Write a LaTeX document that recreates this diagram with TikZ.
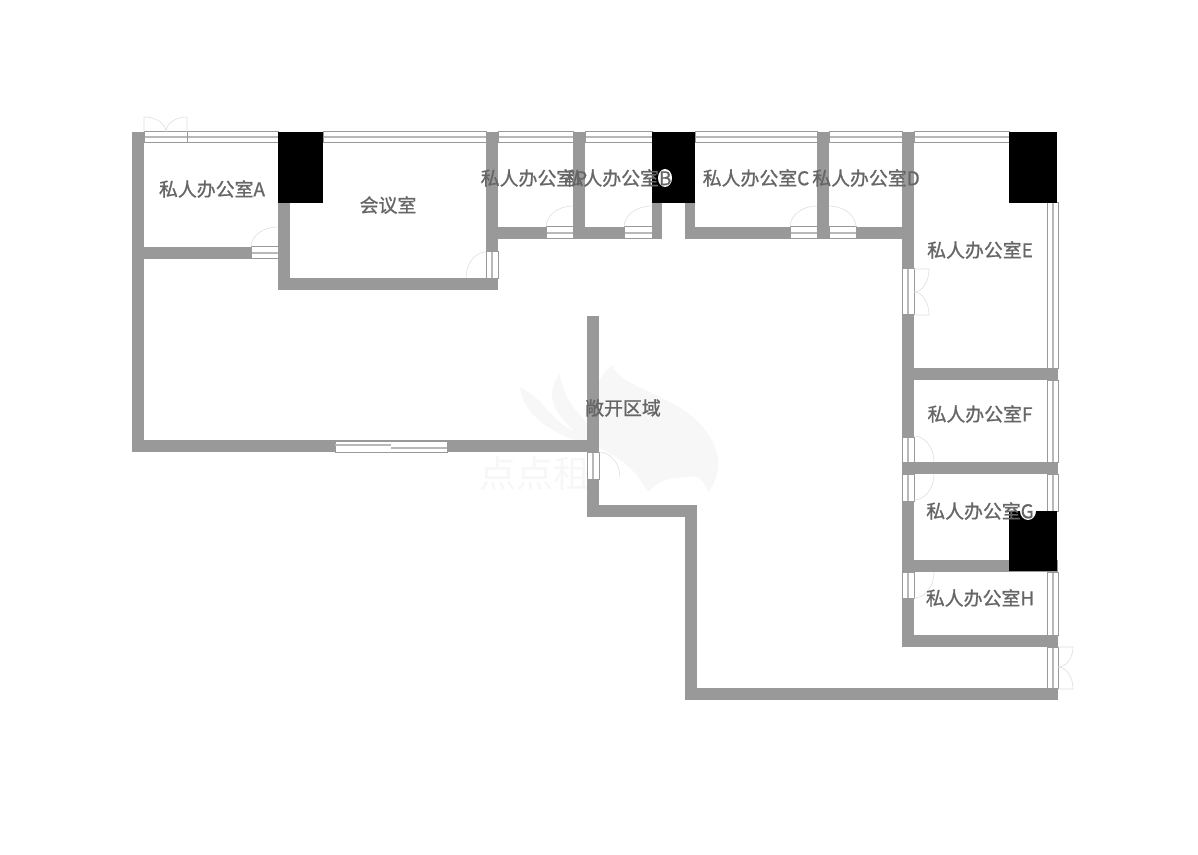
\documentclass[tikz,border=0pt]{standalone}
\usepackage{fontspec}
\setmainfont{Noto Sans CJK SC}[FakeBold=1]
\newfontfamily\markfont{Noto Sans CJK SC}
\usepackage{tikz}
\definecolor{wallgray}{HTML}{999999}
\definecolor{labelgray}{HTML}{666666}
\definecolor{markgray}{HTML}{F7F7F7}
\tikzset{
  wall/.style={fill=wallgray},
  pillar/.style={fill=black},
  winh/.style={draw=wallgray,fill=white,line width=0.5pt,path picture={\draw[winmid] (path picture bounding box.west) -- (path picture bounding box.east);}},
  winv/.style={draw=wallgray,fill=white,line width=0.5pt,path picture={\draw[winmid] (path picture bounding box.north) -- (path picture bounding box.south);}},
  winmid/.style={draw=wallgray!70,line width=1pt},
  leaf/.style={draw=black!13,line width=0.3pt},
  room/.style={text=labelgray,font=\fontsize{9.45}{11}\selectfont,inner sep=0pt},
  brandmark/.style={text=markgray,font=\markfont\fontsize{18.5}{20}\selectfont,inner sep=0pt}
}
\begin{document}
\begin{tikzpicture}[x=0.5pt,y=-0.5pt]
\useasboundingbox (0,0) rectangle (1198,855);
\fill[markgray] (520,387) .. controls (545,400) and (550,420) .. (575,432) .. controls (552,410) and (545,395) .. (560,373) .. controls (562,395) and (575,412) .. (590,425) .. controls (590,400) and (595,380) .. (612,365) .. controls (625,395) and (700,395) .. (717,453) .. controls (720,470) and (715,485) .. (708,492) .. controls (700,470) and (690,478) .. (677,478) .. controls (665,478) and (655,485) .. (648,492) .. controls (635,470) and (625,460) .. (597,447) .. controls (570,440) and (525,425) .. (520,387) -- cycle;
\node[brandmark] (markname) at (535,473) {点点租};

\fill[wall] (132,132) rectangle (144,452);
\fill[wall] (132,440) rectangle (599,452);
\fill[wall] (587,316) rectangle (599,517);
\fill[wall] (587,505) rectangle (697,517);
\fill[wall] (685,505) rectangle (697,700);
\fill[wall] (685,688) rectangle (1058,700);
\fill[wall] (144,247) rectangle (278,259);
\fill[wall] (278,203) rectangle (290,290);
\fill[wall] (278,278) rectangle (498,290);
\fill[wall] (486,132) rectangle (498,279);
\fill[wall] (498,227) rectangle (662,239);
\fill[wall] (573,132) rectangle (585,239);
\fill[wall] (652,203) rectangle (662,239);
\fill[wall] (685,203) rectangle (695,239);
\fill[wall] (685,227) rectangle (914,239);
\fill[wall] (817,132) rectangle (829,239);
\fill[wall] (902,132) rectangle (914,647);
\fill[wall] (902,368) rectangle (1058,380);
\fill[wall] (902,462) rectangle (1058,474);
\fill[wall] (902,560) rectangle (1058,572);
\fill[wall] (902,635) rectangle (1058,647);

\draw[winh] (144,132) rectangle (187,143);
\draw[winh] (187,132) rectangle (278,143);
\draw[winh] (323,132) rectangle (486,143);
\draw[winh] (498,132) rectangle (573,143);
\draw[winh] (585,132) rectangle (652,143);
\draw[winh] (695,132) rectangle (817,143);
\draw[winh] (829,132) rectangle (902,143);
\draw[winh] (914,132) rectangle (1009,143);
\draw[winh] (251,247) rectangle (278,259);
\draw[winh] (546,227) rectangle (573,239);
\draw[winh] (624,227) rectangle (652,239);
\draw[winh] (790,227) rectangle (817,239);
\draw[winh] (829,227) rectangle (856,239);
\draw[winv] (486,252) rectangle (498,279);
\draw[winv] (902,269) rectangle (914,315);
\draw[winv] (902,437) rectangle (914,462);
\draw[winv] (902,474) rectangle (914,501);
\draw[winv] (902,572) rectangle (914,598);
\draw[winv] (587,452) rectangle (599,479);
\draw[winv] (1047,203) rectangle (1058,368);
\draw[winv] (1047,380) rectangle (1058,462);
\draw[winv] (1047,474) rectangle (1058,511);
\draw[winv] (1047,572) rectangle (1058,635);
\draw[winv] (1047,647) rectangle (1058,688);
\draw[draw=wallgray,fill=white,line width=0.5pt] (335,441) rectangle (447,452);
\draw[winmid] (335,445) -- (391,445);
\draw[winmid] (391,448) -- (447,448);

\draw[leaf] (144,132) -- (144,117) arc[start angle=270,end angle=360,x radius=22,y radius=15];
\draw[leaf] (187,132) -- (187,117) arc[start angle=270,end angle=180,x radius=21,y radius=15];
\draw[leaf] (251,247) arc[start angle=180,end angle=270,x radius=27,y radius=20];
\draw[leaf] (466,278) arc[start angle=180,end angle=270,x radius=20,y radius=26];
\draw[leaf] (546,227) arc[start angle=180,end angle=270,x radius=27,y radius=21];
\draw[leaf] (624,227) arc[start angle=180,end angle=270,x radius=28,y radius=21];
\draw[leaf] (790,227) arc[start angle=180,end angle=270,x radius=27,y radius=21];
\draw[leaf] (856,227) arc[start angle=0,end angle=-90,x radius=27,y radius=21];
\draw[leaf] (914,269) -- (929,269) arc[start angle=0,end angle=90,x radius=15,y radius=23];
\draw[leaf] (914,315) -- (929,315) arc[start angle=0,end angle=-90,x radius=15,y radius=23];
\draw[leaf] (914,436) arc[start angle=-90,end angle=0,x radius=20,y radius=26];
\draw[leaf] (934,474) arc[start angle=0,end angle=90,x radius=20,y radius=26];
\draw[leaf] (934,572) arc[start angle=0,end angle=90,x radius=20,y radius=26];
\draw[leaf] (1058,647) -- (1073,647) arc[start angle=0,end angle=90,x radius=15,y radius=20];
\draw[leaf] (1058,689) -- (1073,689) arc[start angle=0,end angle=-90,x radius=15,y radius=22];
\draw[leaf] (599,452) arc[start angle=-90,end angle=0,x radius=21,y radius=26];

\fill[pillar] (278,132) rectangle (323,203);
\fill[pillar] (652,132) rectangle (695,203);
\fill[pillar] (1009,132) rectangle (1057,203);
\fill[pillar] (1009,511) rectangle (1057,571);

\fill[white] (665,178) ellipse [x radius=7,y radius=9];
\fill[white] (1028,511) ellipse [x radius=8,y radius=9];
\node[room] (rooma) at (212,189) {私人办公室A};
\node[room] (meeting) at (388,205) {会议室};
\node[room] (roomp) at (534,178) {私人办公室P};
\node[room] (roomb) at (618,178) {私人办公室B};
\node[room] (roomc) at (756,178) {私人办公室C};
\node[room] (roomd) at (866,178) {私人办公室D};
\node[room] (roome) at (980,250) {私人办公室E};
\node[room] (roomf) at (980,414) {私人办公室F};
\node[room] (roomg) at (980,511) {私人办公室G};
\node[room] (roomh) at (980,598) {私人办公室H};
\node[room] (openarea) at (623,408) {敞开区域};
\end{tikzpicture}
\end{document}
